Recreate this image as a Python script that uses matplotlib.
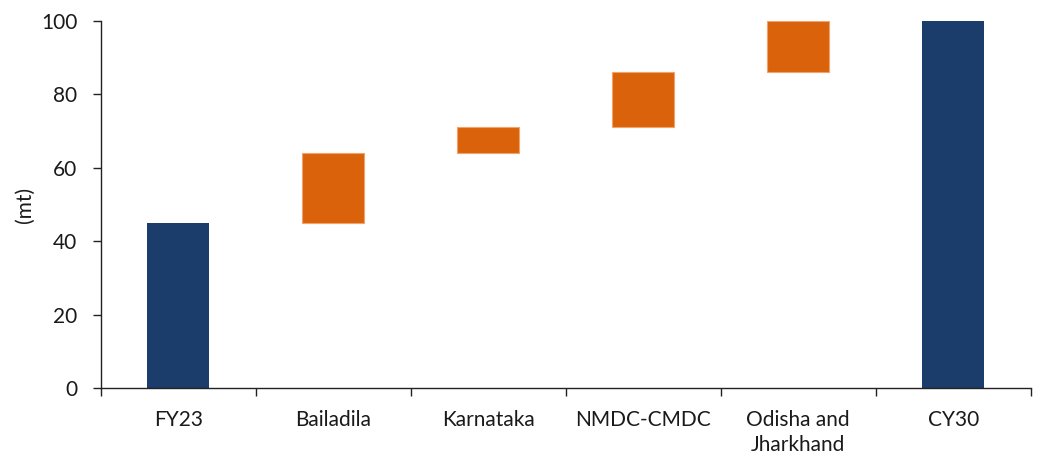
import matplotlib
matplotlib.use("Agg")
import matplotlib.pyplot as plt
import numpy as np

categories = ["FY23", "Bailadila", "Karnataka", "NMDC-CMDC", "Odisha and\nJharkhand", "CY30"]
start_total = 45
increments = [19, 7, 15, 14]
end_total = 100

plt.rcParams['font.family'] = ['Lato', 'DejaVu Sans']

fig = plt.figure(figsize=(10.4, 4.54), dpi=100)
ax = fig.add_axes([0.097, 0.1454, 0.894, 0.8083])

navy = "#1B3D6B"
orange = "#D9620B"
x = np.arange(len(categories))
w = 0.4

ax.bar(x[0], start_total, width=w, color=navy)
bottoms = start_total + np.concatenate([[0], np.cumsum(increments)[:-1]])
ax.bar(x[1:5], increments, bottom=bottoms, width=w, color=orange,
       edgecolor="#F2A36B", linewidth=0.8)
ax.bar(x[5], end_total, width=w, color=navy)

ax.set_xlim(-0.5, len(categories) - 0.5)
ax.set_ylim(0, 100)
ax.set_yticks([0, 20, 40, 60, 80, 100])
ax.set_xticks(x)
ax.set_xticklabels(categories, fontsize=15, color="#1a1a1a", linespacing=1.3)
ax.set_xticks(np.arange(-0.5, len(categories), 1.0), minor=True)
ax.tick_params(axis='x', which='major', length=0, pad=16)
ax.tick_params(axis='x', which='minor', length=6, width=1, color="#222222", direction='out')
ax.tick_params(axis='y', length=6, width=1, color="#222222", labelsize=15, pad=11, labelcolor="#1a1a1a")
ax.set_ylabel("(mt)", fontsize=15, labelpad=4, color="#1a1a1a")

for s in ["top", "right"]:
    ax.spines[s].set_visible(False)
for s in ["left", "bottom"]:
    ax.spines[s].set_color("#222222")
    ax.spines[s].set_linewidth(1)

fig.savefig("out.png", dpi=100, facecolor="white")
